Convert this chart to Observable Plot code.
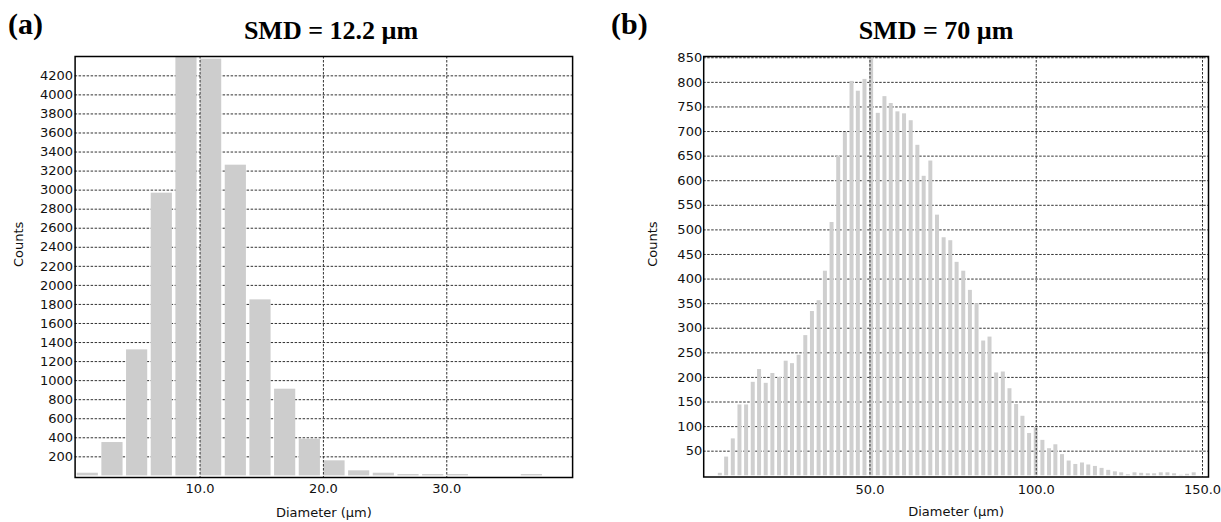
<!DOCTYPE html>
<html>
<head>
<meta charset="utf-8">
<script src="https://cdn.jsdelivr.net/npm/d3@7"></script>
<script src="https://cdn.jsdelivr.net/npm/@observablehq/plot@0.6"></script>
<style>
  html, body { margin: 0; padding: 0; background: #fff; }
  #page { position: relative; width: 1221px; height: 522px; overflow: hidden; background: #fff; }
  .plot { position: absolute; top: 0; }
  .tag, .title { position: absolute; font-family: "Liberation Serif", "Times New Roman", serif; font-weight: bold; line-height: 1; color: #000; white-space: nowrap; }
  .tag { font-size: 30px; }
  .title { font-size: 26px; transform: translateX(-50%); }
</style>
</head>
<body>
<div id="page">
  <div class="tag" style="left:8px; top:8.5px;">(a)</div>
  <div class="title" style="left:331px; top:18px;">SMD = 12.2 µm</div>
  <div class="tag" style="left:611px; top:8.5px;">(b)</div>
  <div class="title" style="left:936px; top:18px;">SMD = 70 µm</div>
  <div id="plotA" class="plot" style="left:0px;"></div>
  <div id="plotB" class="plot" style="left:600px;"></div>
</div>
<script>
// ---- Panel (a) data: 2 µm bins ----
const binStartA = [0, 2, 4, 6, 8, 10, 12, 14, 16, 18, 20, 22, 24, 26, 28, 30, 32, 34, 36];
const countsA   = [28, 350, 1323, 2968, 4480, 4375, 3262, 1848, 910, 385, 158, 53, 28, 14, 14, 14, 0, 0, 14];
const binWidthA = 2;
const xTicksA = [10, 20, 30];
const yTicksA = [200, 400, 600, 800, 1000, 1200, 1400, 1600, 1800, 2000, 2200, 2400, 2600, 2800, 3000, 3200, 3400, 3600, 3800, 4000, 4200];

// ---- Panel (b) data: bin centres (µm) and counts ----
const centersB = [5.0, 6.9, 8.9, 10.9, 12.9, 14.9, 16.8, 18.8, 20.8, 22.8, 24.8, 26.7, 28.7, 30.7, 32.7, 34.7, 36.6, 38.6, 40.6, 42.6,
                  44.6, 46.5, 48.5, 50.5, 52.5, 54.5, 56.4, 58.4, 60.4, 62.4, 64.4, 66.3, 68.3, 70.3, 72.3, 74.3, 76.2, 78.2, 80.2, 82.2,
                  84.2, 86.1, 88.1, 90.1, 92.1, 94.1, 96.0, 98.0, 100.0, 102.0, 104.0, 105.9, 107.9, 109.9, 111.9, 113.9, 115.8, 117.8, 119.8, 121.8,
                  123.8, 125.7, 127.7, 129.7, 131.7, 133.7, 135.6, 137.6, 139.6, 141.6, 143.6, 145.5, 147.5];
const countsB  = [5, 38, 75, 144, 144, 190, 216, 188, 208, 200, 233, 228, 245, 285, 334, 356, 416, 515, 650, 698,
                  802, 782, 806, 870, 737, 771, 757, 740, 736, 722, 672, 609, 640, 530, 484, 478, 434, 416, 377, 350,
                  274, 282, 209, 211, 177, 145, 121, 86, 98, 72, 55, 63, 43, 30, 23, 26, 22, 19, 15, 11,
                  8, 6, 2, 6, 5, 4, 4, 6, 6, 4, 1, 3, 6];
const binWidthB = 1.98;
const xTicksB = [50, 100, 150];
const yTicksB = [50, 100, 150, 200, 250, 300, 350, 400, 450, 500, 550, 600, 650, 700, 750, 800, 850];

const dataA = binStartA.map((s, i) => ({start: s, count: countsA[i]}));
const dataB = centersB.map((c, i) => ({center: c, count: countsB[i]}));

const FS = 13;
const gridStyle = {stroke: "#333", strokeOpacity: 1, strokeWidth: 1, strokeDasharray: "2.5,1.5"};
const baseStyle = {fontFamily: "DejaVu Sans, Verdana, sans-serif", fontSize: "13px", color: "#111", background: "transparent", overflow: "visible"};
const fmtX = d3.format(".1f");
const fmtY = d => String(d);

const plotA = Plot.plot({
  width: 600, height: 522,
  marginTop: 56, marginBottom: 45, marginLeft: 74.6, marginRight: 27.9,
  style: baseStyle,
  x: {domain: [-0.13, 40.2]},
  y: {domain: [-17, 4403]},
  marks: [
    Plot.gridY(yTicksA, gridStyle),
    Plot.rectY(dataA, {x1: "start", x2: d => d.start + binWidthA, y1: 0, y2: "count", fill: "#cdcdcd", insetLeft: 0.5, insetRight: 3, clip: true}),
    Plot.gridX(xTicksA, gridStyle),
    Plot.axisY(yTicksA, {tickSize: 0, tickPadding: 2, tickFormat: fmtY, label: null, fontSize: FS}),
    Plot.axisX(xTicksA, {tickSize: 0, tickPadding: 6, tickFormat: fmtX, label: null, fontSize: FS}),
    Plot.text(["Diameter (µm)"], {frameAnchor: "bottom", dy: 35, lineAnchor: "middle", fontSize: FS}),
    Plot.text(["Counts"], {frameAnchor: "left", dx: -56.6, rotate: -90, lineAnchor: "middle", fontSize: FS}),
    Plot.frame({stroke: "#000", strokeWidth: 1.5})
  ]
});
document.getElementById("plotA").appendChild(plotA);

const plotB = Plot.plot({
  width: 621, height: 522,
  marginTop: 56, marginBottom: 45.5, marginLeft: 103.2, marginRight: 13,
  style: baseStyle,
  x: {domain: [0, 151.8]},
  y: {domain: [-2.5, 852.6]},
  marks: [
    Plot.gridY(yTicksB, gridStyle),
    Plot.rectY(dataB, {x1: d => d.center - binWidthB / 2, x2: d => d.center + binWidthB / 2, y1: 0, y2: "count", fill: "#cfcfcf", insetLeft: 1.3, insetRight: 1.3, clip: true}),
    Plot.gridX(xTicksB, gridStyle),
    Plot.axisY(yTicksB, {tickSize: 0, tickPadding: 1.5, tickFormat: fmtY, label: null, fontSize: FS}),
    Plot.axisX(xTicksB, {tickSize: 0, tickPadding: 8, tickFormat: fmtX, label: null, fontSize: FS}),
    Plot.text(["Diameter (µm)"], {frameAnchor: "bottom", dy: 35, lineAnchor: "middle", fontSize: FS}),
    Plot.text(["Counts"], {frameAnchor: "left", dx: -51, rotate: -90, lineAnchor: "middle", fontSize: FS}),
    Plot.frame({stroke: "#000", strokeWidth: 1.5})
  ]
});
document.getElementById("plotB").appendChild(plotB);
</script>
</body>
</html>
